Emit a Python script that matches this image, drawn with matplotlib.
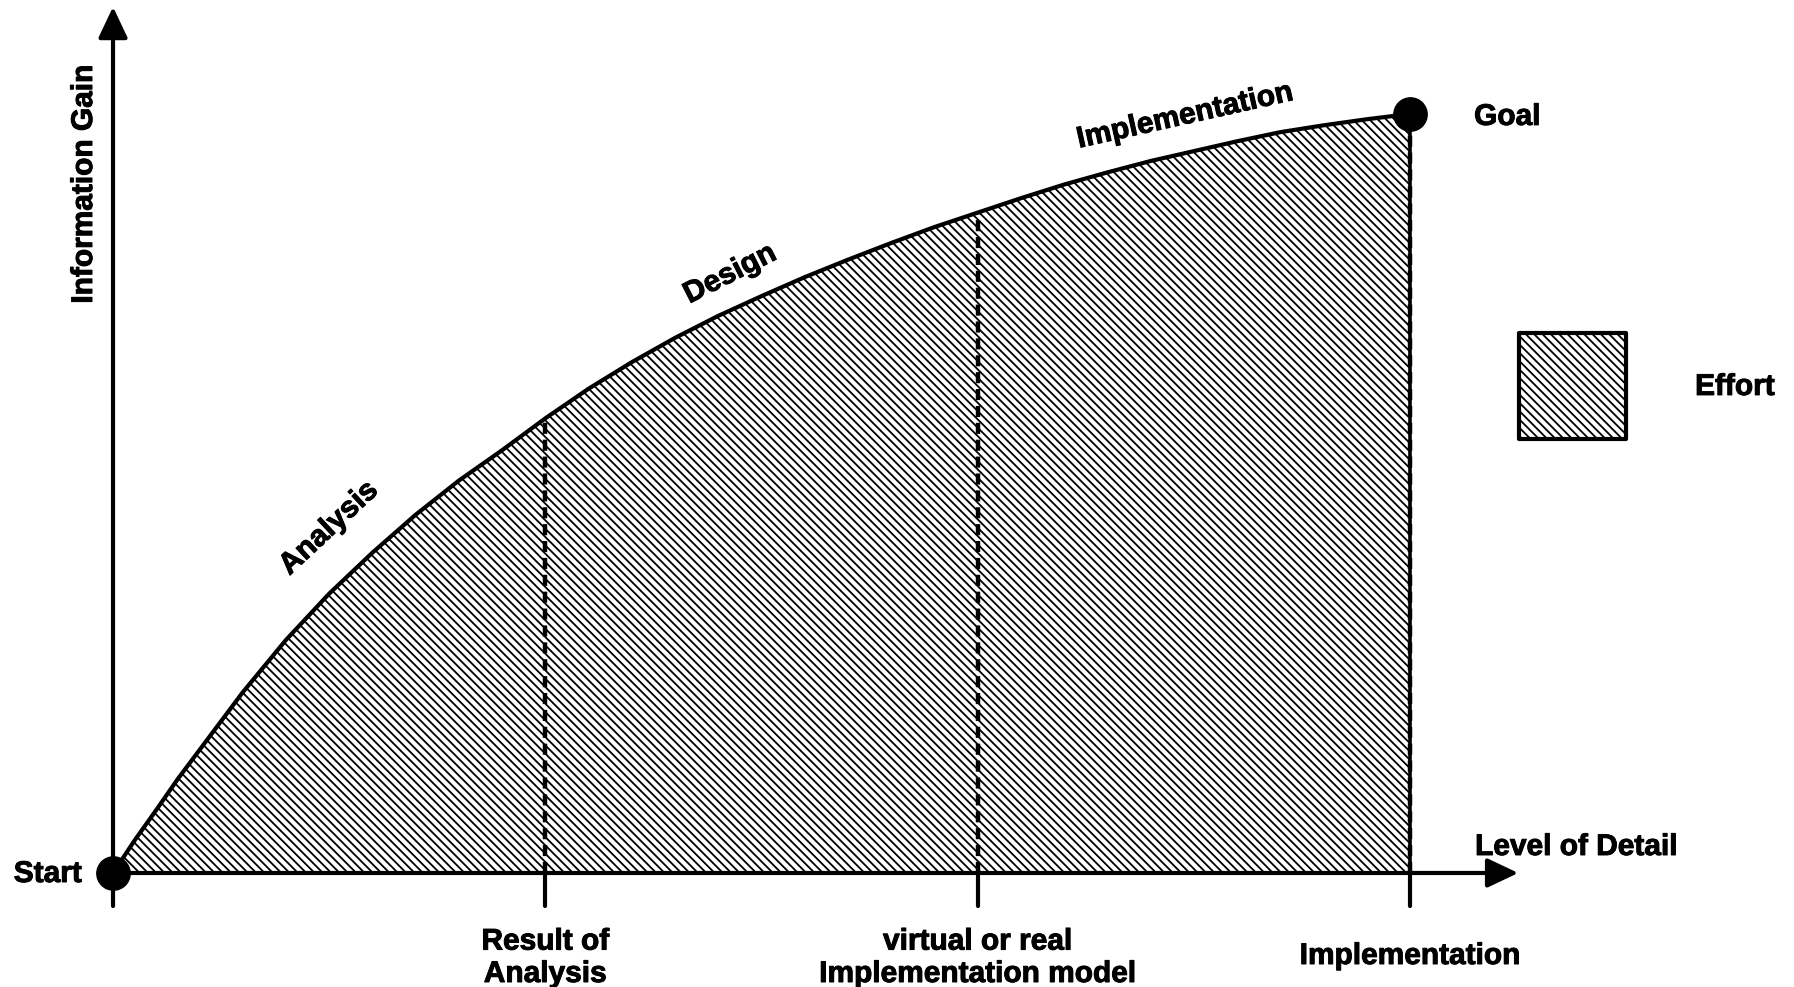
import matplotlib
matplotlib.use('Agg')
import matplotlib.pyplot as plt
import matplotlib.transforms as mtransforms
import matplotlib.patheffects as pe
from matplotlib.patches import Rectangle

plt.rcParams['font.family'] = ['Liberation Sans', 'DejaVu Sans']
plt.rcParams['font.weight'] = 'bold'
plt.rcParams['hatch.linewidth'] = 1.3

# ---------------- data ----------------
level_of_detail = [0, 0.05, 0.1, 0.15, 0.2, 0.3, 0.4, 0.5, 0.6, 0.7, 0.8, 0.9,
                   1.0, 1.1, 1.2, 1.3, 1.4, 1.5, 1.6, 1.7, 1.8, 1.9,
                   2.0, 2.1, 2.2, 2.3, 2.4, 2.5, 2.6, 2.7, 2.8, 2.9, 3.0]
information_gain = [0, 4.3, 8.3, 12.4, 16.2, 23.8, 30.7, 36.8, 42.2, 47.2, 51.7, 55.7,
                    59.9, 63.8, 67.3, 70.5, 73.4, 76.0, 78.5, 80.8, 83.0, 85.1,
                    87.0, 88.9, 90.7, 92.3, 93.8, 95.1, 96.4, 97.6, 98.5, 99.3, 100]
milestones = [1.0, 2.0, 3.0]
milestone_labels = ['Result of\nAnalysis', 'virtual or real\nImplementation model', 'Implementation']
phase_labels = ['Analysis', 'Design', 'Implementation']
start_point = (0, 0)
goal_point = (3.0, 100)
legend_label = 'Effort'

# ---------------- figure ----------------
W, H = 1794, 987
fig = plt.figure(figsize=(17.941, 9.871), dpi=100)
ax = fig.add_axes([0, 0, 1, 1])
ax.set_xlim(-0.2614, 3.888)
ax.set_ylim(-15.02, 115.02)
ax.axis('off')

FS = 21.5
HATCH = '\\' * 4
STROKE = [pe.withStroke(linewidth=0.7, foreground='black')]
def fx(px):
    return px / W
def fy(py):
    return 1 - py / H

# hatched effort area
ax.fill_between(level_of_detail, 0, information_gain, facecolor='white',
                edgecolor='black', hatch=HATCH, linewidth=0, zorder=1)
# curve
ax.plot(level_of_detail, information_gain, color='black', lw=3, zorder=3,
        solid_joinstyle='round', solid_capstyle='round')

# vertical milestone lines
for m in milestones:
    top = information_gain[level_of_detail.index(m)]
    ax.plot([m, m], [0, top], color='black', lw=3.2, ls=(0, (2.5, 1.3)), zorder=2)
    ax.plot([m, m], [0, -4.35], color='black', lw=3, zorder=3, solid_capstyle='round')
ax.plot([goal_point[0]] * 2, [0, goal_point[1]], color='black', lw=2.6, zorder=2)

# axes arrows
arrow_kw = dict(arrowstyle='-|>,head_length=0.95,head_width=0.45', lw=3, color='black',
                shrinkA=0, shrinkB=0, mutation_scale=20)
ax.annotate('', xy=(0, 114.1), xytext=(0, -4.35), arrowprops=arrow_kw, zorder=4)
ax.annotate('', xy=(3.25, 0), xytext=(0, 0), arrowprops=arrow_kw, zorder=4)

# start / goal dots
for p in (start_point, goal_point):
    ax.plot(p[0], p[1], 'o', ms=24, color='black', zorder=6, clip_on=False)

# texts
tf = fig.transFigure
txt_kw = dict(fontsize=FS, path_effects=STROKE)
ax.text(fx(82), fy(882), 'Start', transform=tf, ha='right', va='baseline', **txt_kw)
ax.text(fx(1474), fy(125), 'Goal', transform=tf, ha='left', va='baseline', **txt_kw)
ax.text(fx(1475), fy(855), 'Level of Detail', transform=tf, ha='left', va='baseline', **txt_kw)
ax.text(fx(84), fy(184), 'Information Gain', transform=tf, ha='center', va='center',
        rotation=90, **txt_kw)

blend = mtransforms.blended_transform_factory(ax.transData, tf)
label_baselines = [982, 982, 964]
for m, lab, b in zip(milestones, milestone_labels, label_baselines):
    ax.text(m, fy(b), lab, transform=blend, ha='center', va='baseline',
            multialignment='center', linespacing=1.2, **txt_kw)

phase_pos = [(329, 528), (730, 274), (1185, 116)]
phase_rot = [43, 27, 12.6]
for lab, (px, py), r in zip(phase_labels, phase_pos, phase_rot):
    ax.text(fx(px), fy(py), lab, transform=tf, ha='center', va='center',
            rotation=r, rotation_mode='anchor', **txt_kw)

# legend key
ax.add_patch(Rectangle((fx(1519), fy(439)), fx(1626) - fx(1519), fy(333) - fy(439),
                       transform=tf, facecolor='white', edgecolor='black',
                       hatch=HATCH, linewidth=3, zorder=5, joinstyle='round'))
ax.text(fx(1695), fy(395), legend_label, transform=tf, ha='left', va='baseline', **txt_kw)

fig.savefig('out.png', dpi=100, facecolor='white')
